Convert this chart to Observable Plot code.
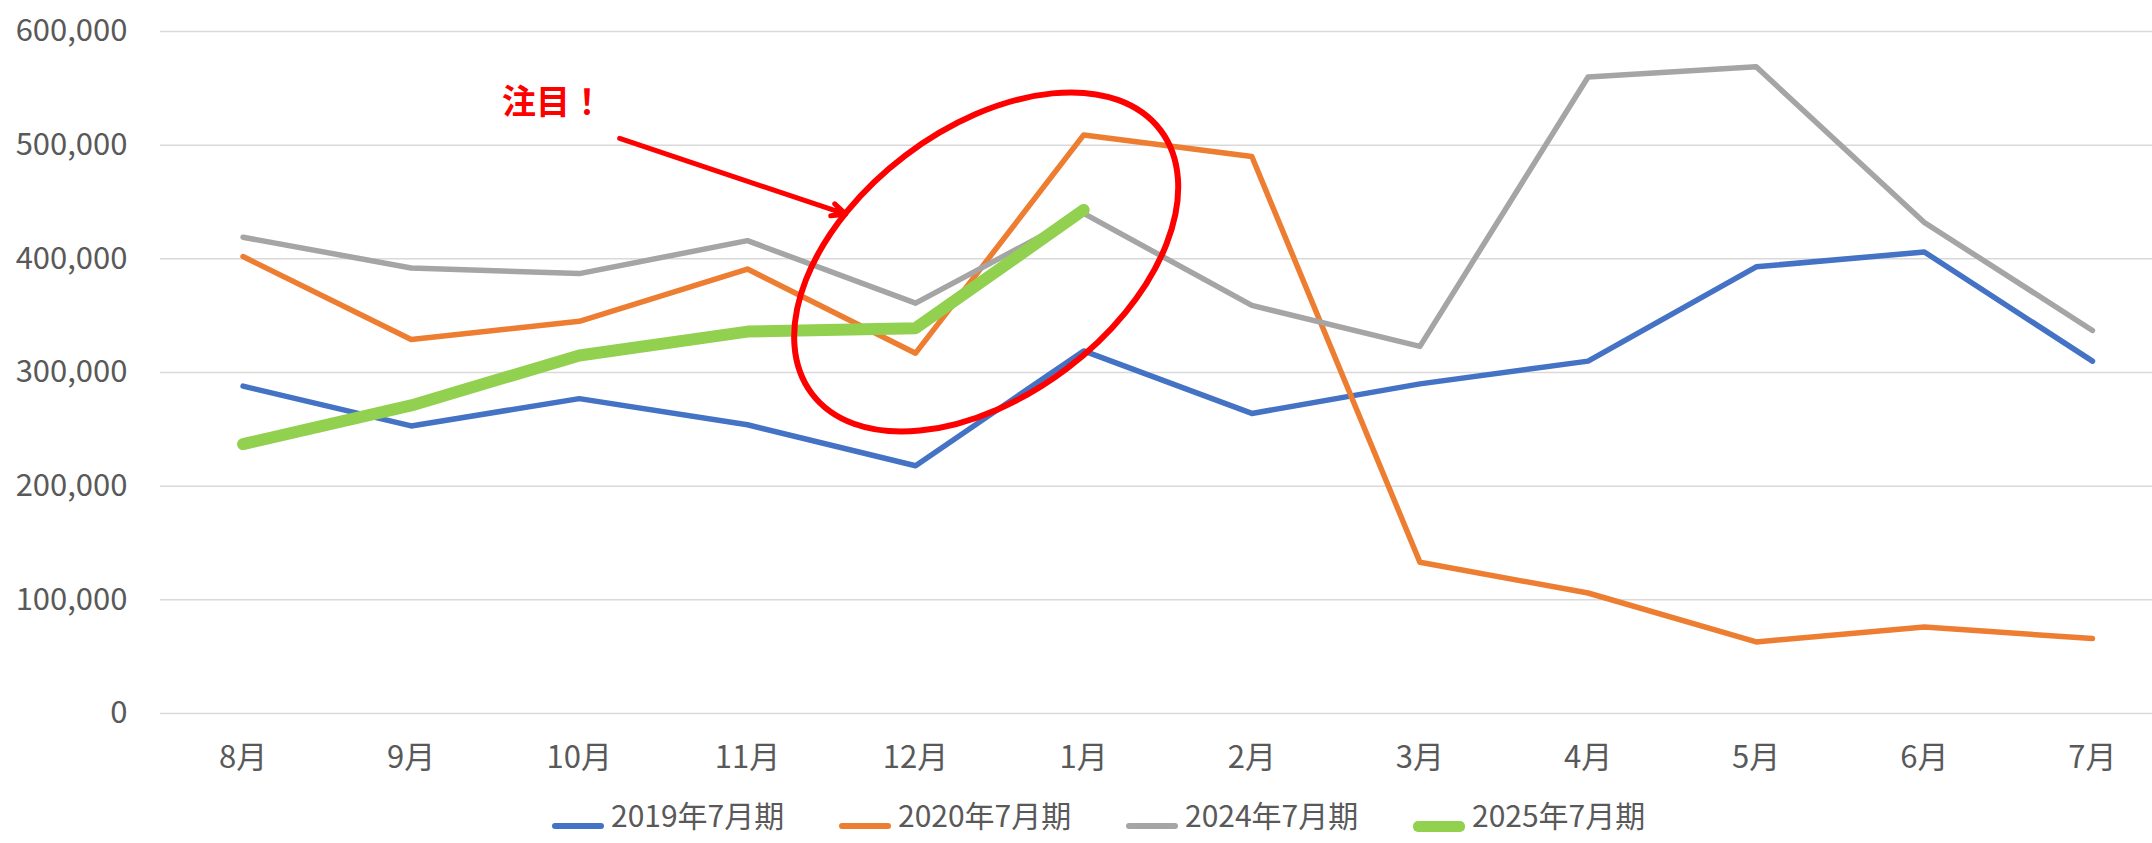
<!DOCTYPE html>
<html>
<head>
<meta charset="utf-8">
<script src="https://cdn.jsdelivr.net/npm/d3@7"></script>
<script src="https://cdn.jsdelivr.net/npm/@observablehq/plot@0.6"></script>
<style>
  html, body { margin: 0; padding: 0; background: #fff; overflow: hidden; }
  #legend { display: flex; align-items: flex-start; padding-left: 552px; padding-top: 4px; height: 44px;
    font-family: 'Noto Sans CJK JP', 'Noto Sans', sans-serif; font-size: 30px; line-height: 1; color: #595959; }
  .item { display: flex; align-items: flex-start; width: 287px; white-space: nowrap; }
  .sw { display: inline-block; width: 52px; margin-right: 7px; border-radius: 5px; }
</style>
</head>
<body>
<div id="chart"></div>
<div id="legend"></div>
<script>
const months = ["8月","9月","10月","11月","12月","1月","2月","3月","4月","5月","6月","7月"];
const seriesNames = ["2019年7月期","2020年7月期","2024年7月期","2025年7月期"];
const seriesColors = ["#4472C4","#ED7D31","#A5A5A5","#92D050"];
const seriesWidths = [5.5, 5.5, 5.5, 12];
const values2019 = [288000, 253000, 277000, 254000, 218000, 319000, 264000, 290000, 310000, 393000, 406000, 310000];
const values2020 = [402000, 329000, 345000, 391000, 317000, 509000, 490000, 133000, 106000, 63000, 76000, 66000];
const values2024 = [419000, 392000, 387000, 416000, 361000, 440000, 359000, 323000, 560000, 569000, 432000, 337000];
const values2025 = [237000, 271000, 315000, 336000, 339000, 443000];
const yTicks = [0, 100000, 200000, 300000, 400000, 500000, 600000];
const noteText = "注目！";
const noteAt = {x: 1.54, y: 537000};
const arrowAt = {x1: 2.24, y1: 506000, x2: 3.584, y2: 439300};
const ellipseAt = {x: 4.423, y: 396800, rx: 218.5, ry: 133.7, angle: -37.1};

const allValues = [values2019, values2020, values2024, values2025];
const rows = allValues.flatMap((vals, s) => vals.map((v, i) => ({series: seriesNames[s], i, value: v})));

const lineMarks = seriesNames.map((name, s) =>
  Plot.line(rows.filter(d => d.series === name), {
    x: "i", y: "value", stroke: seriesColors[s], strokeWidth: seriesWidths[s],
    strokeLinecap: "round", strokeLinejoin: "round"
  })
);

const ellipseMark = (index, scales) => {
  const g = d3.create("svg:g");
  const cx = scales.x(ellipseAt.x), cy = scales.y(ellipseAt.y);
  g.append("ellipse")
    .attr("cx", 0).attr("cy", 0)
    .attr("rx", ellipseAt.rx).attr("ry", ellipseAt.ry)
    .attr("transform", `translate(${cx},${cy}) rotate(${ellipseAt.angle})`)
    .attr("fill", "none").attr("stroke", "#FF0000").attr("stroke-width", 6);
  return g.node();
};

const chart = Plot.plot({
  width: 2152,
  height: 795,
  marginLeft: 160,
  marginRight: 0,
  marginTop: 31,
  marginBottom: 82,
  style: {fontFamily: "'Noto Sans CJK JP', 'Noto Sans', sans-serif", fontSize: "31px", color: "#595959", background: "#fff"},
  x: {type: "linear", domain: [-0.491, 11.357], label: null},
  y: {domain: [0, 600000], label: null},
  marks: [
    Plot.ruleY(yTicks, {stroke: "#d9d9d9", strokeWidth: 1.5}),
    Plot.axisY(yTicks, {tickSize: 0, tickPadding: 33, tickFormat: d3.format(","), label: null}),
    Plot.axisX(d3.range(months.length), {tickSize: 0, tickPadding: 32, tickFormat: i => months[i], label: null}),
    ...lineMarks,
    Plot.arrow([arrowAt], {x1: "x1", y1: "y1", x2: "x2", y2: "y2", stroke: "#FF0000", strokeWidth: 5, headLength: 4.5, headAngle: 50}),
    ellipseMark,
    Plot.text([noteAt], {x: "x", y: "y", text: () => noteText, fill: "#FF0000", fontWeight: "bold", fontSize: 34, textAnchor: "start"})
  ]
});
document.getElementById("chart").appendChild(chart);

const legend = d3.select("#legend");
seriesNames.forEach((name, s) => {
  const item = legend.append("div").attr("class", "item");
  item.append("span").attr("class", "sw")
    .style("background", seriesColors[s])
    .style("height", (s === 3 ? 11 : 6) + "px")
    .style("margin-top", (s === 3 ? 22 : 24) + "px");
  item.append("span").text(name);
});
</script>
</body>
</html>
